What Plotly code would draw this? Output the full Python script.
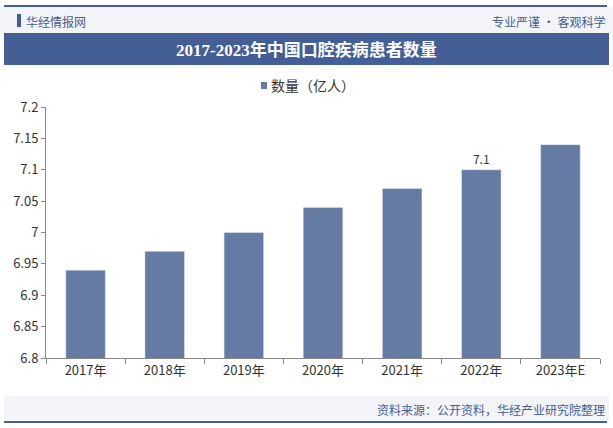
import plotly.graph_objects as go

years = ["2017年", "2018年", "2019年", "2020年", "2021年", "2022年", "2023年E"]
patients = [6.94, 6.97, 7.00, 7.04, 7.07, 7.10, 7.14]
labels = ["", "", "", "", "", "7.1", ""]
y_ticks = [6.8, 6.85, 6.9, 6.95, 7, 7.05, 7.1, 7.15, 7.2]
series_name = "数量（亿人）"

BAR = "#667ba3"
NAVY = "#445e96"
FONT = "Noto Sans CJK SC"

fig = go.Figure()
fig.add_trace(go.Bar(
    x=years, y=patients, name=series_name, marker_color=BAR, width=0.5,
    text=labels, textposition="outside", textfont=dict(size=12, color="#333"),
    cliponaxis=False,
))

fig.update_layout(
    width=613, height=428, margin=dict(l=46, r=13, t=107, b=70),
    paper_bgcolor="white", plot_bgcolor="white",
    font=dict(family=FONT, size=12, color="#333"),
    showlegend=False,
    bargap=0.5,
)
fig.update_xaxes(showline=True, linecolor="#888", ticks="outside", ticklen=5,
                 tickcolor="#888", tickson="boundaries", tickfont=dict(size=13, color="#333"))
fig.update_yaxes(range=[6.8, 7.2], tickvals=y_ticks, ticktext=[f"{v:g}" for v in y_ticks],
                 showgrid=False, showline=True, linecolor="#888", ticks="outside",
                 ticklen=4, tickcolor="#888", tickfont=dict(size=13, color="#333"), zeroline=False)

W = 554
H = 251
shapes = [
    dict(type="rect", x0=-46/W, x1=1+13/W, y0=1+(107-7)/H, y1=1+(107-33)/H,
         fillcolor="#f3f4f8", line_width=0),
    dict(type="line", x0=-42/W, x1=1+7/W, y0=1+(107-6)/H, y1=1+(107-6)/H,
         line=dict(color=NAVY, width=2)),
    dict(type="rect", x0=-42/W, x1=1+9/W, y0=1+(107-33)/H, y1=1+(107-65)/H,
         fillcolor=NAVY, line_width=0),
    dict(type="rect", x0=-42/W, x1=1+9/W, y0=-(396-358)/H, y1=-(420-358)/H,
         fillcolor="#f3f4f8", line_width=0),
    dict(type="line", x0=-42/W, x1=1+7/W, y0=-(422-358)/H, y1=-(422-358)/H,
         line=dict(color=NAVY, width=2)),
    dict(type="rect", x0=-29/W, x1=-25/W, y0=1+(107-14)/H, y1=1+(107-27)/H,
         fillcolor=NAVY, line_width=0),
    # legend swatch
    dict(type="rect", x0=(261-46)/W, x1=(267-46)/W, y0=1+(107-82)/H, y1=1+(107-89)/H,
         fillcolor=BAR, line_width=0),
]
for s in shapes:
    s.update(xref="paper", yref="paper")
fig.update_layout(shapes=shapes)

ann = [
    dict(text="华经情报网", x=-22/W, y=1+(107-21)/H, xanchor="left", yanchor="middle",
         font=dict(size=12, color=NAVY)),
    dict(text="专业严谨 • 客观科学", x=1+7/W, y=1+(107-21)/H, xanchor="right", yanchor="middle",
         font=dict(size=12, color=NAVY)),
    dict(text="<b>2017-2023年中国口腔疾病患者数量</b>", x=(306-46)/W, y=1+(107-50)/H,
         xanchor="center", yanchor="middle",
         font=dict(size=17, color="white", family="Liberation Serif, Noto Sans CJK SC")),
    dict(text=series_name, x=(269-46)/W, y=1+(107-85)/H, xanchor="left", yanchor="middle",
         font=dict(size=14, color="#333")),
    dict(text="资料来源：公开资料，华经产业研究院整理", x=1+7/W, y=-(409-358)/H,
         xanchor="right", yanchor="middle", font=dict(size=12, color=NAVY)),
]
for a in ann:
    a.update(xref="paper", yref="paper", showarrow=False)
fig.update_layout(annotations=ann)

fig.write_html("out.html", config={"displayModeBar": False},
               post_script="document.body.style.margin='0';")
